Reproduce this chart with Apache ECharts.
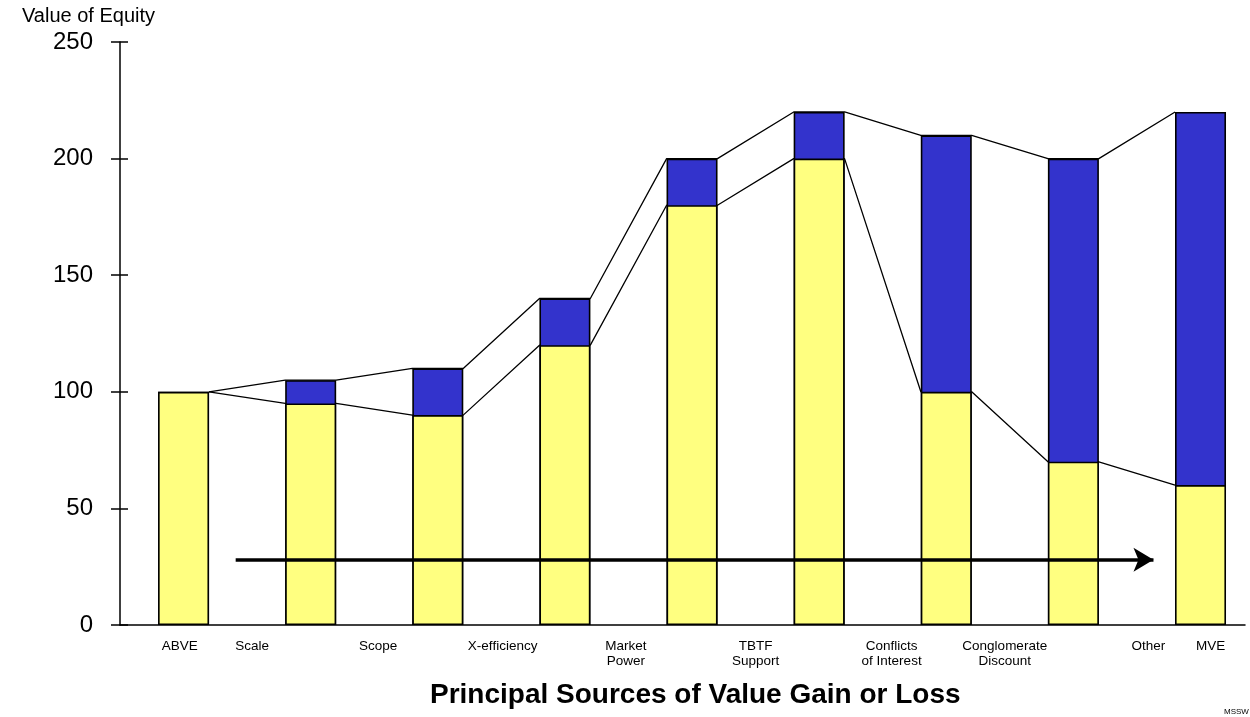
<!DOCTYPE html>
<html>
<head>
<meta charset="utf-8">
<script src="https://cdn.jsdelivr.net/npm/echarts@6/dist/echarts.min.js"></script>
<style>html,body{margin:0;padding:0;background:#fff}#c{width:1250px;height:717px}</style>
</head>
<body>
<div id="c"></div>
<script>
const categories = ['ABVE', 'Scale', 'Scope', 'X-efficiency', 'Market\nPower', 'TBTF\nSupport', 'Conflicts\nof Interest', 'Conglomerate\nDiscount', 'Other', 'MVE'];
const labelPositions = [0.97, 1.54, 2.53, 3.51, 4.48, 5.5, 6.57, 7.46, 8.59, 9.08];
const barPositions = [1, 2, 3, 4, 5, 6, 7, 8, 9];
const yellowValues = [100, 95, 90, 120, 180, 200, 100, 70, 60];
const totalValues = [100, 105, 110, 140, 200, 220, 210, 200, 220];
const yTicks = [0, 50, 100, 150, 200, 250];
const arrowLevel = 28;
const arrowFrom = 1.41;
const arrowTo = 8.63;

const HALF = 0.2; // half bar width in x units

function connector(vals) {
  const pts = [];
  for (let i = 0; i < vals.length; i++) {
    if (i > 0) pts.push([barPositions[i] - HALF, vals[i]]);
    if (i < vals.length - 1) pts.push([barPositions[i] + HALF, vals[i]]);
  }
  return pts;
}

const chart = echarts.init(document.getElementById('c'), null, {renderer: 'canvas'});
const fontFam = 'Liberation Sans, Arial, sans-serif';
chart.setOption({
  animation: false,
  grid: {left: 120, right: 5, top: 42, bottom: 92},
  xAxis: {
    type: 'value', min: 0.5, max: 9.35,
    splitLine: {show: false},
    axisLine: {show: true, onZero: false, lineStyle: {color: '#000', width: 1.5}},
    axisTick: {show: false},
    axisLabel: {
      customValues: labelPositions,
      formatter: v => categories[labelPositions.indexOf(v)] || '',
      color: '#000', fontSize: 13.5, fontFamily: fontFam, margin: 14, lineHeight: 15,
      align: 'center', verticalAlign: 'top'
    }
  },
  yAxis: [{
    type: 'value', min: yTicks[0], max: yTicks[yTicks.length - 1], interval: yTicks[1] - yTicks[0],
    name: 'Value of Equity', nameLocation: 'end', nameGap: 16,
    nameTextStyle: {color: '#000', fontSize: 20, fontFamily: fontFam, align: 'left', padding: [0, 0, 0, -98]},
    splitLine: {show: false},
    axisLine: {show: true, lineStyle: {color: '#000', width: 1.5}},
    axisTick: {show: true, inside: false, length: 9, lineStyle: {color: '#000', width: 1.5}},
    axisLabel: {color: '#000', fontSize: 24, fontFamily: fontFam, margin: 27}
  }, {
    type: 'value', min: yTicks[0], max: yTicks[yTicks.length - 1], interval: yTicks[1] - yTicks[0], position: 'left',
    splitLine: {show: false},
    axisLine: {show: false},
    axisTick: {show: true, inside: true, length: 8, lineStyle: {color: '#000', width: 1.5}},
    axisLabel: {show: false}
  }],
  series: [
    {
      type: 'bar', barWidth: 51, barGap: '-100%', z: 3,
      data: barPositions.map((x, i) => [x, totalValues[i]]),
      itemStyle: {color: '#3333CC', borderColor: '#000', borderWidth: 1.6}
    },
    {
      type: 'bar', barWidth: 51, barGap: '-100%', z: 3,
      data: barPositions.map((x, i) => [x, yellowValues[i]]),
      itemStyle: {color: '#FFFF80', borderColor: '#000', borderWidth: 1.6}
    },
    {
      type: 'line', z: 2, symbol: 'none', silent: true,
      data: connector(totalValues),
      lineStyle: {color: '#000', width: 1.3}
    },
    {
      type: 'line', z: 2, symbol: 'none', silent: true,
      data: connector(yellowValues),
      lineStyle: {color: '#000', width: 1.3},
      markLine: {
        silent: true, animation: false,
        symbol: ['none', 'arrow'], symbolSize: [18, 20],
        label: {show: false},
        lineStyle: {color: '#000', width: 3.5, type: 'solid'},
        data: [[{coord: [arrowFrom, arrowLevel]}, {coord: [arrowTo, arrowLevel]}]]
      }
    }
  ],
  graphic: [
    {type: 'text', left: 430, top: 681, style: {text: 'Principal Sources of Value Gain or Loss', fill: '#000', font: 'bold 28px ' + fontFam}},
    {type: 'text', left: 1224, top: 708, style: {text: 'MSSW', fill: '#000', font: '8px ' + fontFam}}
  ]
});
</script>
</body>
</html>
